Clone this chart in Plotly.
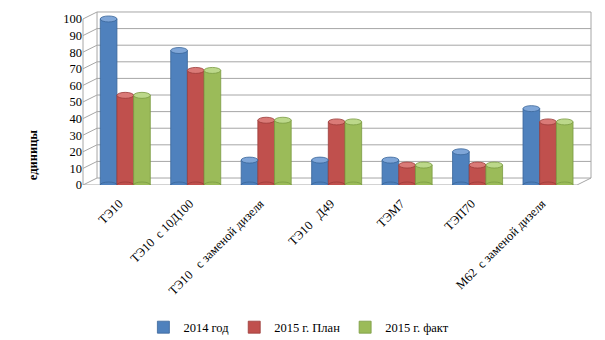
import plotly.graph_objects as go

categories = ["ТЭ10", "ТЭ10  с 10Д100", "ТЭ10   с заменой дизеля", "ТЭ10   Д49",
              "ТЭМ7", "ТЭП70", "М62  с заменой дизеля"]
y2014 = [100, 81, 15, 15, 15, 20, 46]
plan2015 = [54, 69, 39, 38, 12, 12, 38]
fact2015 = [54, 69, 39, 38, 12, 12, 38]
series_names = ["2014 год", "2015 г. План", "2015 г. факт"]
colors = ["#4F81BD", "#C0504D", "#9BBB59"]
edge = ["#3A6699", "#9A3B38", "#7A9A41"]
tops = ["#7FA6D8", "#DA7A77", "#BCD88A"]
yticks = list(range(0, 101, 10))

FONT = "Liberation Serif, Times New Roman, serif"
dx, dy = 0.0276, 4.2  # 3D depth offset (paper x, data y)
bargap = 0.29

fig = go.Figure()
xs = list(range(len(categories)))
all_series = [y2014, plan2015, fact2015]
for name, vals, c, e in zip(series_names, all_series, colors, edge):
    fig.add_trace(go.Bar(x=xs, y=vals, name=name,
                         marker=dict(color=c, line=dict(color=e, width=0.8))))

shapes = []
gc = "#A6A6A6"
for v in yticks:
    shapes.append(dict(type="line", xref="paper", yref="y", x0=dx, x1=1, y0=v + dy, y1=v + dy,
                       line=dict(color=gc, width=1), layer="below"))
    shapes.append(dict(type="line", xref="paper", yref="y", x0=0, x1=dx, y0=v, y1=v + dy,
                       line=dict(color=gc, width=1), layer="below"))
shapes.append(dict(type="line", xref="paper", yref="y", x0=0, x1=0, y0=0, y1=100,
                   line=dict(color=gc, width=1), layer="below"))
shapes.append(dict(type="line", xref="paper", yref="y", x0=dx, x1=dx, y0=dy, y1=100 + dy,
                   line=dict(color=gc, width=1), layer="below"))
shapes.append(dict(type="line", xref="paper", yref="y", x0=1, x1=1, y0=dy, y1=100 + dy,
                   line=dict(color=gc, width=1), layer="below"))
shapes.append(dict(type="line", xref="paper", yref="y", x0=0, x1=1 - dx, y0=0, y1=0,
                   line=dict(color=gc, width=1), layer="below"))
shapes.append(dict(type="line", xref="paper", yref="y", x0=1 - dx, x1=1, y0=0, y1=dy,
                   line=dict(color=gc, width=1), layer="below"))

# cylinder caps (elliptical tops) derived from the data through the x scale
bw = (1 - bargap) / 3
for k, (vals, c, e, t) in enumerate(zip(all_series, colors, edge, tops)):
    for i, v in enumerate(vals):
        cx = i + (k - 1) * bw
        shapes.append(dict(type="circle", xref="x", yref="y",
                           x0=cx - bw / 2, x1=cx + bw / 2, y0=v - 1.8, y1=v + 1.8,
                           fillcolor=t, line=dict(color=e, width=0.8), layer="above"))
        shapes.append(dict(type="circle", xref="x", yref="y",
                           x0=cx - bw / 2, x1=cx + bw / 2, y0=-1.8, y1=1.8,
                           fillcolor=c, line=dict(color=e, width=0.8), layer="above"))

fig.update_layout(
    width=605, height=340,
    margin=dict(l=83, r=14, t=9, b=155, autoexpand=False),
    paper_bgcolor="white", plot_bgcolor="white",
    barmode="group", bargap=bargap, bargroupgap=0,
    font=dict(family=FONT, size=12, color="black"),
    shapes=shapes,
    xaxis=dict(tickmode="array", tickvals=xs, ticktext=categories, tickangle=-45,
               range=[-0.6, 6.61], showgrid=False, zeroline=False, showline=False,
               ticks="", automargin=False, ticklabelstandoff=8, ticklabelshift=-6,
               tickfont=dict(family=FONT, size=12.5)),
    yaxis=dict(range=[0, 106], tickvals=yticks, showgrid=False, zeroline=False,
               showline=False, ticks="", automargin=False, tickfont=dict(family=FONT, size=12.5)),
    legend=dict(orientation="h", x=0.425, xanchor="center", y=-0.81, yanchor="middle",
                font=dict(family=FONT, size=12.5), itemwidth=30, tracegroupgap=0),
    annotations=[dict(text="<b>единицы</b>", xref="paper", yref="paper", x=-0.116, y=0.17,
                      yanchor="middle", showarrow=False, textangle=-90,
                      font=dict(family=FONT, size=12.5))],
)

fig.write_html("out.html")
